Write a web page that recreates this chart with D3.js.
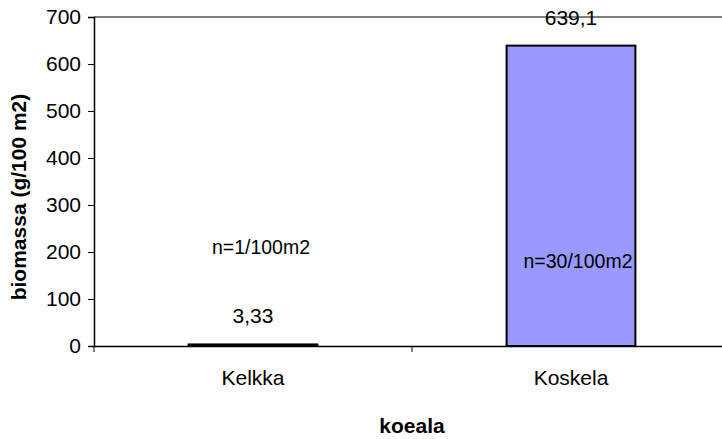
<!DOCTYPE html>
<html>
<head>
<meta charset="utf-8">
<script src="https://cdn.jsdelivr.net/npm/d3@7"></script>
<style>
  html, body { margin: 0; padding: 0; background: #fff; }
  svg { display: block; font-family: "Liberation Sans", Arial, sans-serif; }
</style>
</head>
<body>
<svg id="chart" width="722" height="439"></svg>
<script>
// Biomass per plot
const categories = ["Kelkka", "Koskela"];
const values = [3.33, 639.1];
const valueLabels = ["3,33", "639,1"];
const densityLabels = ["n=1/100m2", "n=30/100m2"];
const yTicks = [0, 100, 200, 300, 400, 500, 600, 700];

const FONT = 21;
const svg = d3.select("#chart");
const plotLeft = 94, plotTop = 17, plotBottom = 346, plotRight = 730;

const x = d3.scaleBand().domain(categories).range([plotLeft, plotRight]).padding(0);
const y = d3.scaleLinear().domain([0, 700]).range([plotBottom, plotTop]);
const barW = x.bandwidth() * 0.405;
const barX = i => x(categories[i]) + x.bandwidth() / 2 - barW / 2;
const mid = i => x(categories[i]) + x.bandwidth() / 2;

// top border of plot area
svg.append("line")
  .attr("x1", plotLeft).attr("x2", plotRight)
  .attr("y1", plotTop).attr("y2", plotTop)
  .attr("stroke", "#808080").attr("stroke-width", 2);

// bars
svg.selectAll("rect.bar").data(values).join("rect")
  .attr("class", "bar")
  .attr("x", (d, i) => barX(i))
  .attr("width", barW)
  .attr("y", d => y(d))
  .attr("height", d => plotBottom - y(d))
  .attr("fill", "#9999FF");

// density labels (drawn under the bar outline)
svg.selectAll("text.dens").data(densityLabels).join("text")
  .attr("class", "dens")
  .attr("x", (d, i) => mid(i) + (i === 0 ? 8 : 7))
  .attr("y", (d, i) => i === 0 ? 254 : 268)
  .attr("text-anchor", "middle")
  .attr("font-size", 19.5)
  .text(d => d);

svg.selectAll("rect.outline").data(values).join("rect")
  .attr("class", "outline")
  .attr("x", (d, i) => barX(i))
  .attr("width", barW)
  .attr("y", d => y(d))
  .attr("height", d => plotBottom - y(d))
  .attr("fill", "none")
  .attr("stroke", "#000")
  .attr("stroke-width", 2);

// value labels
svg.selectAll("text.val").data(values).join("text")
  .attr("class", "val")
  .attr("x", (d, i) => mid(i))
  .attr("y", d => y(d) - 21)
  .attr("text-anchor", "middle")
  .attr("font-size", FONT)
  .text((d, i) => valueLabels[i]);

// y axis
const yAxis = svg.append("g")
  .attr("transform", `translate(${plotLeft},0)`)
  .call(d3.axisLeft(y).tickValues(yTicks).tickSize(6).tickPadding(7).tickFormat(d3.format("d")));
yAxis.select(".domain").attr("stroke", "#000").attr("stroke-width", 1.5);
yAxis.selectAll(".tick line").attr("stroke", "#000");
yAxis.selectAll(".tick text")
  .attr("font-size", FONT).attr("fill", "#000")
  .attr("font-family", "Liberation Sans, Arial, sans-serif");

// x axis
const xAxis = svg.append("g")
  .attr("transform", `translate(0,${plotBottom})`)
  .call(d3.axisBottom(x).tickSize(0).tickPadding(24));
xAxis.select(".domain").attr("stroke", "#000").attr("stroke-width", 1.5);
xAxis.selectAll(".tick text")
  .attr("font-size", FONT).attr("fill", "#000")
  .attr("font-family", "Liberation Sans, Arial, sans-serif");

// category boundary ticks
svg.selectAll("line.xtick").data([plotLeft, plotLeft + x.step(), plotLeft + 2 * x.step()]).join("line")
  .attr("class", "xtick")
  .attr("x1", d => d).attr("x2", d => d)
  .attr("y1", plotBottom).attr("y2", plotBottom + 6)
  .attr("stroke", "#000").attr("stroke-width", 1);

// axis titles
svg.append("text")
  .attr("x", 412).attr("y", 433)
  .attr("text-anchor", "middle")
  .attr("font-size", FONT).attr("font-weight", "bold")
  .text("koeala");

svg.append("text")
  .attr("transform", "translate(26,197) rotate(-90)")
  .attr("text-anchor", "middle")
  .attr("font-size", FONT).attr("font-weight", "bold")
  .text("biomassa (g/100 m2)");
</script>
</body>
</html>
